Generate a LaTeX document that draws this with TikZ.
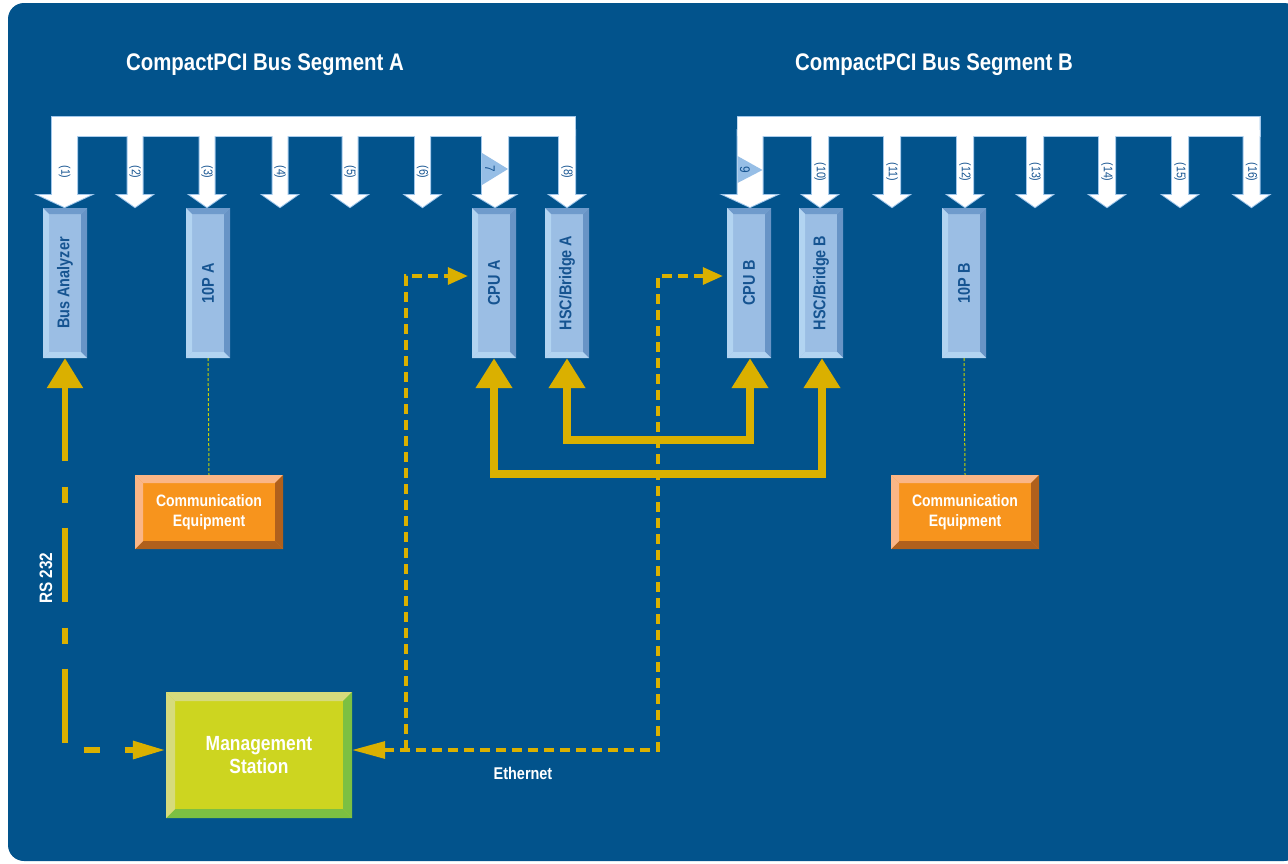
\documentclass[tikz,border=0pt]{standalone}
\usepackage{fontspec}
\setmainfont{Liberation Sans}[FakeStretch=0.85]
\usetikzlibrary{arrows.meta,calc}

\definecolor{bgblue}{RGB}{2,83,140}
\definecolor{cardface}{RGB}{155,190,228}
\definecolor{cardtop}{RGB}{111,155,204}
\definecolor{cardright}{RGB}{104,148,198}
\definecolor{cardlow}{RGB}{178,212,241}
\definecolor{cardtext}{RGB}{22,84,145}
\definecolor{busrim}{RGB}{160,198,234}
\definecolor{busmark}{RGB}{150,190,230}
\definecolor{gold}{RGB}{218,176,0}
\definecolor{lime}{RGB}{200,212,0}
\definecolor{orface}{RGB}{247,148,29}
\definecolor{orlight}{RGB}{251,182,134}
\definecolor{ordark}{RGB}{176,96,28}
\definecolor{msface}{RGB}{205,213,32}
\definecolor{mslight}{RGB}{214,219,124}
\definecolor{msdark}{RGB}{124,192,66}

\tikzset{
  bev/.code={\def\bev{#1}},
  bevelbox/.style n args={5}{fill=#1, inner sep=0pt, path picture={
      \coordinate (bbsw) at (path picture bounding box.south west);
      \coordinate (bbse) at (path picture bounding box.south east);
      \coordinate (bbnw) at (path picture bounding box.north west);
      \coordinate (bbne) at (path picture bounding box.north east);
      \fill[#2] (bbnw) -- (bbne) -- ([xshift=-\bev,yshift=-\bev]bbne) -- ([xshift=\bev,yshift=-\bev]bbnw) -- cycle;
      \fill[#3] (bbne) -- (bbse) -- ([xshift=-\bev,yshift=\bev]bbse) -- ([xshift=-\bev,yshift=-\bev]bbne) -- cycle;
      \fill[#4] (bbse) -- (bbsw) -- ([xshift=\bev,yshift=\bev]bbsw) -- ([xshift=-\bev,yshift=\bev]bbse) -- cycle;
      \fill[#5] (bbsw) -- (bbnw) -- ([xshift=\bev,yshift=-\bev]bbnw) -- ([xshift=\bev,yshift=\bev]bbsw) -- cycle;
    }},
  card/.style={bevelbox={cardface}{cardtop}{cardright}{cardlow}{cardlow}, bev=6pt,
    minimum width=44pt, minimum height=150pt, text=cardtext,
    font=\fontsize{17}{18}\selectfont\bfseries},
  commbox/.style={bevelbox={orface}{orlight}{ordark}{ordark}{orlight}, bev=8pt,
    minimum width=148pt, minimum height=74pt, text=white, align=center,
    font=\fontsize{16.5}{20}\selectfont\bfseries},
  mgmtbox/.style={bevelbox={msface}{mslight}{msdark}{msdark}{mslight}, bev=9pt,
    minimum width=186pt, minimum height=126pt, text=white, align=center,
    font=\fontsize{20.5}{23}\selectfont\bfseries},
  segtitle/.style={text=white, font=\fontsize{24}{28}\selectfont\bfseries},
  numlbl/.style={text=cardtext, rotate=-90, inner sep=0pt, font=\fontsize{12.5}{13}\selectfont},
  bighead/.tip={Triangle[length=30pt,width=35pt]},
  flathead/.tip={Triangle[length=33pt,width=17pt]},
  smallhead/.tip={Triangle[length=20pt,width=17pt]},
  feed/.style={gold, line width=8.5pt},
  rsline/.style={gold, line width=6pt, dash pattern=on 74pt off 26pt on 16pt off 25pt},
  ethline/.style={gold, line width=3.2pt, dash pattern=on 10pt off 6pt},
  dotline/.style={lime, line width=1pt, dash pattern=on 3pt off 2pt},
}

\begin{document}
\begin{tikzpicture}[x=1pt,y=-1pt]
  \useasboundingbox (0,0) rectangle (1288,863);
  \clip (0,0) rectangle (1288,863);
  \fill[bgblue,rounded corners=16pt] (8,3) rectangle (1300,861);

  % bus segments: rim first, then white body
  \foreach \c/\s/\h in {64.5/12.5/26,135/7.5/17,207/7.5/17,280/7.5/17,350/7.5/17,422.5/7.5/17,495/13/20,567/8/17,
                        750/12.5/26,820/8/17,892/8/17,965/8/17,1035/8/17,1107/8/17,1180/8/17,1251.5/8/17}
    \draw[busrim,line width=2pt] (\c-\s,130) -- (\c-\s,195) -- (\c-\h,195) -- (\c,207) -- (\c+\h,195) -- (\c+\s,195) -- (\c+\s,130) -- cycle;
  \draw[busrim,line width=2pt] (52,117) rectangle (575,136) (737.5,117) rectangle (1259.5,136);
  \foreach \c/\s/\h in {64.5/12.5/26,135/7.5/17,207/7.5/17,280/7.5/17,350/7.5/17,422.5/7.5/17,495/13/20,567/8/17,
                        750/12.5/26,820/8/17,892/8/17,965/8/17,1035/8/17,1107/8/17,1180/8/17,1251.5/8/17}
    \fill[white] (\c-\s,130) -- (\c-\s,195) -- (\c-\h,195) -- (\c,207) -- (\c+\h,195) -- (\c+\s,195) -- (\c+\s,130) -- cycle;
  \fill[white] (52,117) rectangle (575,136) (737.5,117) rectangle (1259.5,136);

  % slot numbers
  \fill[busmark] (482,153) -- (508,169) -- (482,185) -- cycle;
  \fill[busmark] (737.5,156) -- (762.5,170) -- (737.5,183) -- cycle;
  \node[numlbl,font=\fontsize{14}{15}\selectfont] (n7) at (490,169) {7};
  \node[numlbl,font=\fontsize{14}{15}\selectfont] (n9) at (745,170) {9};
  \foreach \n/\c in {1/64.5,2/135,3/207,4/280,5/350,6/422.5,8/567,10/820,11/892,12/965,13/1035,14/1107,15/1180,16/1251.5}
    \node[numlbl] (n\n) at (\c,172) {(\n)};

  \node[segtitle,anchor=base] (titleA) at (265,70) {CompactPCI Bus Segment A};
  \node[segtitle,anchor=base] (titleB) at (934,70) {CompactPCI Bus Segment B};

  % boards
  \node[card] (busan) at (65,283) {\rotatebox{90}{Bus Analyzer}};
  \node[card] (iopA) at (208,283) {\rotatebox{90}{10P A}};
  \node[card] (cpuA) at (494,283) {\rotatebox{90}{CPU A}};
  \node[card] (hscA) at (567,283) {\rotatebox{90}{HSC/Bridge A}};
  \node[card] (cpuB) at (749,283) {\rotatebox{90}{CPU B}};
  \node[card] (hscB) at (821,283) {\rotatebox{90}{HSC/Bridge B}};
  \node[card] (iopB) at (964,283) {\rotatebox{90}{10P B}};

  \node[commbox] (commA) at (209,512) {Communication\\Equipment};
  \node[commbox] (commB) at (965,512) {Communication\\Equipment};
  \node[mgmtbox] (mgmt) at (259,755) {Management\\Station};

  % links
  \draw[dotline] (iopA.south) -- (commA.north);
  \draw[dotline] (iopB.south) -- (commB.north);

  \draw[feed,bighead-bighead] (cpuA.south) -- ++(0,116) -| ([xshift=1pt]hscB.south);
  \draw[feed,bighead-bighead] (hscA.south) -- ++(0,82) -| ([xshift=1pt]cpuB.south);

  \draw[rsline,bighead-flathead] (busan.south) |- ([yshift=5pt]mgmt.west);

  \coordinate (ethA) at (406,750);
  \coordinate (ethB) at (658,750);
  \draw[ethline,flathead-smallhead] ([yshift=5pt]mgmt.east) -- (ethB) |- ([xshift=-4pt,yshift=7pt]cpuB.west);
  \draw[ethline,-smallhead] (ethA) |- ([xshift=-4pt,yshift=7pt]cpuA.west);

  \node[text=white,rotate=90,font=\fontsize{18}{20}\selectfont\bfseries] (rslbl) at (46,578) {RS 232};
  \node[text=white,anchor=base,font=\fontsize{17}{20}\selectfont\bfseries] (ethlbl) at (523,779) {Ethernet};
\end{tikzpicture}
\end{document}
